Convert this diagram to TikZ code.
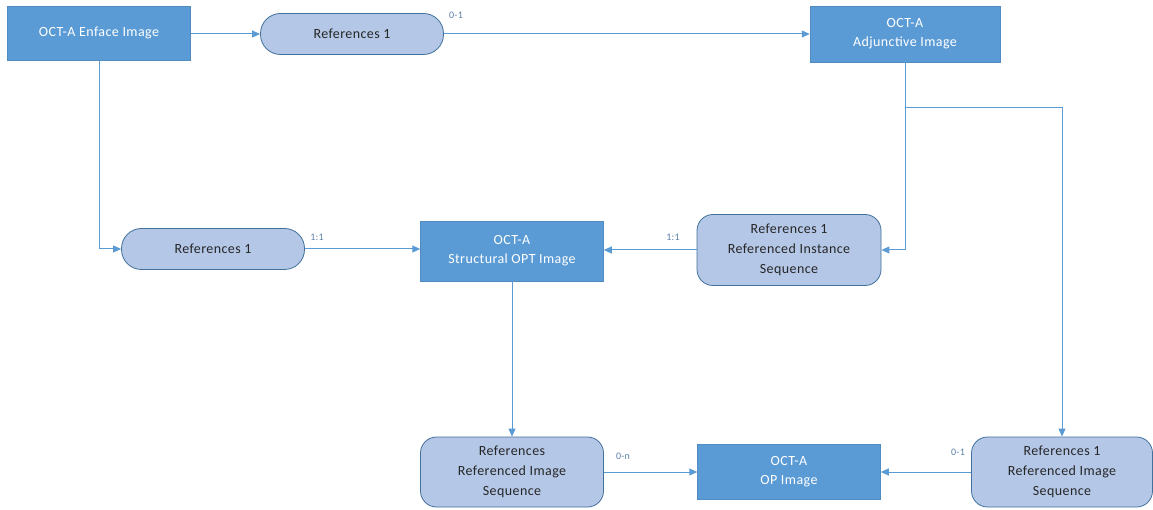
\documentclass[tikz,border=0pt]{standalone}
\usepackage{fontspec}
\setmainfont{Carlito}[LetterSpace=3]
\usetikzlibrary{arrows.meta}
\definecolor{boxblue}{HTML}{5B9BD5}
\definecolor{lightfill}{HTML}{B4C7E7}
\definecolor{edgeblue}{HTML}{41719C}
\definecolor{linecol}{HTML}{5B9BD5}
\definecolor{lblcol}{HTML}{5B7FA8}
\tikzset{
  darkbox/.style={draw=boxblue!90!black, line width=0.5pt, fill=boxblue, text=white, inner sep=0pt, align=center, font=\fontsize{14}{19}\selectfont},
  pillbox/.style={draw=edgeblue, line width=0.8pt, fill=lightfill, text=black!85, rounded corners=20pt, inner sep=0pt, align=center, font=\fontsize{14}{19}\selectfont},
  roundbox/.style={draw=edgeblue, line width=0.8pt, fill=lightfill, text=black!85, rounded corners=16pt, inner sep=0pt, align=center, font=\fontsize{14}{20}\selectfont},
  conn/.style={draw=linecol, line width=1pt, -{Triangle[width=7pt,length=8pt]}},
  plain/.style={draw=linecol, line width=1pt},
  lbl/.style={text=lblcol, font=\fontsize{10}{11}\selectfont, inner sep=0pt}
}
\begin{document}
\begin{tikzpicture}[x=1pt,y=-1pt]
\useasboundingbox (0,0) rectangle (1153,510);
\node[darkbox, minimum width=183pt, minimum height=54pt] (enface) at (99,33) {OCT-A Enface Image};
\node[pillbox, minimum width=183pt, minimum height=41pt] (ref1a) at (352,34) {References 1};
\node[darkbox, minimum width=190pt, minimum height=56pt] (adj) at (905,34) {OCT-A\\Adjunctive Image};
\node[pillbox, minimum width=183pt, minimum height=41pt] (ref1b) at (213,249) {References 1};
\node[darkbox, minimum width=183pt, minimum height=60pt] (struct) at (512,251) {OCT-A\\Structural OPT Image};
\node[roundbox, minimum width=184pt, minimum height=71pt] (inst) at (789,250) {References 1\\Referenced Instance\\Sequence};
\node[roundbox, minimum width=183pt, minimum height=70pt] (imgseq) at (512,472) {References\\Referenced Image\\Sequence};
\node[darkbox, minimum width=183pt, minimum height=55pt] (op) at (789,472) {OCT-A\\OP Image};
\node[roundbox, minimum width=181pt, minimum height=70pt] (imgseq1) at (1062,472) {References 1\\Referenced Image\\Sequence};

\coordinate (branch) at (905,108);

\draw[conn] (enface.east |- ref1a.west) -- (ref1a.west);
\draw[conn] (ref1a.east) -- (adj.west |- ref1a.east);
\draw[conn] (enface.south) |- (ref1b.west);
\draw[conn] (ref1b.east) -- (struct.west |- ref1b.east);
\draw[conn] (inst.west) -- (struct.east |- inst.west);
\draw[conn] (adj.south) |- (inst.east);
\draw[conn] (branch) -| (imgseq1.north);
\draw[conn] (struct.south) -- (imgseq.north);
\draw[conn] (imgseq.east) -- (op.west |- imgseq.east);
\draw[conn] (imgseq1.west) -- (op.east |- imgseq1.west);

\node[lbl] (l1) at (456,15) {0-1};
\node[lbl] (l2) at (317,237) {1:1};
\node[lbl] (l3) at (673,237) {1:1};
\node[lbl] (l4) at (623,456) {0-n};
\node[lbl] (l5) at (958,452) {0-1};
\end{tikzpicture}
\end{document}
